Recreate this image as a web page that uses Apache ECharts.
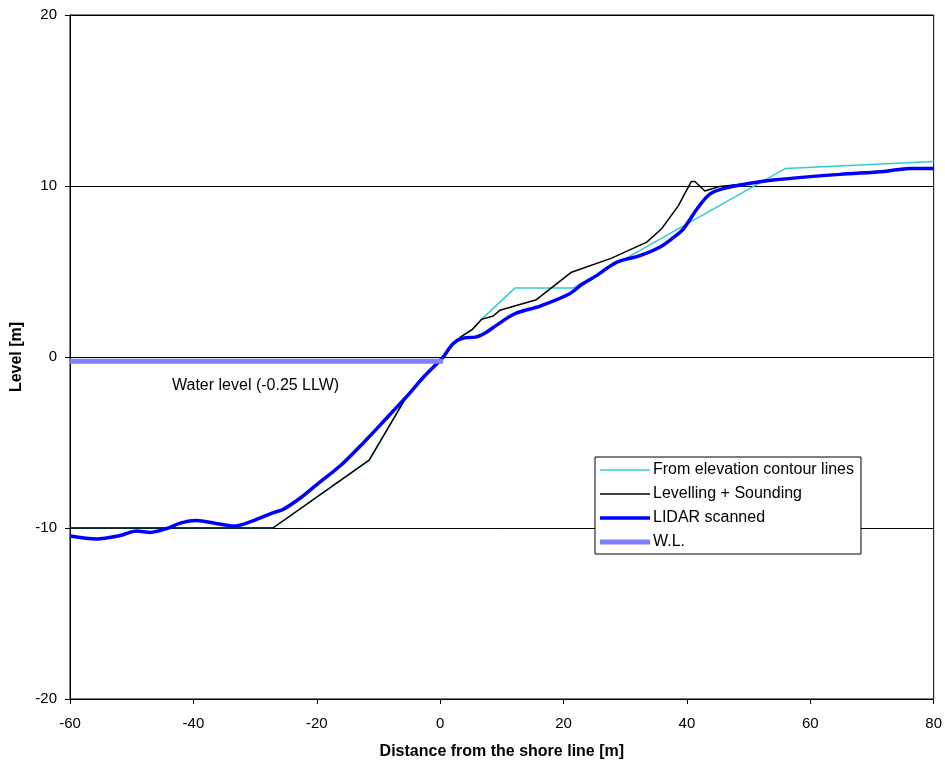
<!DOCTYPE html>
<html lang="en">
<head>
    <meta charset="UTF-8">
    <title>Profile</title>
    <script src="https://cdn.jsdelivr.net/npm/echarts@6/dist/echarts.min.js"></script>
    <style>
        html,body{margin:0;padding:0;background:#fff;}
        #echart1{width:945px;height:765px;}
    </style>
</head>
<body>
    <div id="echart1"></div>
<script>
    // tick labels
    var xTicks = [-60, -40, -20, 0, 20, 40, 60, 80]
    var yTicks = [-20, -10, 0, 10, 20]

    // from elevation contour lines [distance, level]
    var contourData = [[-60,-10],[-27.1,-10],[-11.5,-6.03],[-5.45,-2.32],[-2.5,-1.1],[0.5,0],[2.4,0.88],[3.47,1.21],[5.25,1.62],[6.7,2.2],[12.15,4.04],[21.6,4.04],[56,11.03],[80,11.44]]

    // levelling + sounding
    var levellingData = [[-60,-10],[-27.1,-10],[-11.5,-6.03],[-5.45,-2.32],[-2.5,-1.1],[0.5,0],[2.4,0.88],[3.47,1.21],[5.25,1.62],[6.7,2.2],[8.6,2.4],[9.68,2.73],[15.6,3.35],[21.3,4.96],[27.8,5.78],[33.5,6.72],[35.9,7.5],[38.6,8.84],[40.7,10.26],[41.3,10.26],[42.9,9.71],[45.3,9.97],[50,10.15],[54,10.35],[64.8,10.68],[76.1,11.0],[80,11.0]]

    // LIDAR scanned
    var lidarData = [[-60,-10.47],[-55.7,-10.64],[-52,-10.45],[-49.2,-10.18],[-47,-10.26],[-44.3,-10.03],[-42,-9.7],[-39.5,-9.56],[-36.5,-9.72],[-33.5,-9.89],[-30.5,-9.6],[-27.1,-9.11],[-25.4,-8.9],[-22.5,-8.2],[-20,-7.46],[-16,-6.3],[-12.5,-5.04],[-8.7,-3.58],[-5.45,-2.32],[-2.5,-1.1],[0.5,0.0],[2,0.75],[3.47,1.08],[5.9,1.18],[7.5,1.45],[9.1,1.85],[12.1,2.53],[16.2,2.98],[21,3.7],[23,4.25],[25.35,4.76],[28.6,5.54],[32.4,5.93],[35.6,6.42],[37.5,6.9],[39.4,7.48],[41.8,8.74],[43.7,9.52],[45.9,9.85],[50,10.15],[54,10.35],[64.8,10.68],[72,10.85],[76.1,11.03],[80,11.03]]

    // water level
    var wlData = [[-60,-0.25],[0.5,-0.25]]

    var font = 'Liberation Sans, Arial, sans-serif'

    var option = {
        animation: false,
        backgroundColor: '#fff',
        grid: {
            left: 70,
            right: 11,
            top: 15,
            bottom: 63,
            show: true,
            borderColor: '#000',
            borderWidth: 1,
            backgroundColor: 'transparent'
        },
        legend: {
            orient: 'vertical',
            left: 595,
            top: 457,
            padding: [5, 7, 4, 5],
            itemWidth: 50,
            itemHeight: 14,
            itemGap: 8,
            borderColor: '#000',
            borderWidth: 1,
            backgroundColor: '#fff',
            textStyle: {
                fontFamily: font,
                fontSize: 16,
                color: '#000',
                padding: [0, 0, 0, -2]
            },
            // thin bars as line samples
            data: [
                {name: 'From elevation contour lines', icon: 'path://M0,0h50v1.5h-50z'},
                {name: 'Levelling + Sounding', icon: 'path://M0,0h50v1.5h-50z'},
                {name: 'LIDAR scanned', icon: 'path://M0,0h50v3.5h-50z'},
                {name: 'W.L.', icon: 'path://M0,0h50v5h-50z'}
            ]
        },
        xAxis: {
            type: 'value',
            min: xTicks[0],
            max: xTicks[xTicks.length - 1],
            interval: 20,
            name: 'Distance from the shore line [m]',
            nameLocation: 'middle',
            nameGap: 45,
            nameTextStyle: {fontFamily: font, fontSize: 16, fontWeight: 'bold', color: '#000'},
            axisLine: {onZero: false, lineStyle: {color: '#000', width: 1}},
            axisTick: {show: true, inside: false, length: 5, lineStyle: {color: '#000'}},
            axisLabel: {fontFamily: font, fontSize: 15, color: '#000', margin: 17},
            splitLine: {show: false}
        },
        yAxis: {
            type: 'value',
            min: yTicks[0],
            max: yTicks[yTicks.length - 1],
            interval: 10,
            name: 'Level [m]',
            nameLocation: 'middle',
            nameRotate: 90,
            nameGap: 44,
            nameTextStyle: {fontFamily: font, fontSize: 16, fontWeight: 'bold', color: '#000'},
            axisLine: {show: true, onZero: false, lineStyle: {color: '#000', width: 1}},
            axisTick: {show: true, inside: false, length: 5, lineStyle: {color: '#000'}},
            axisLabel: {fontFamily: font, fontSize: 15, color: '#000', margin: 13},
            splitLine: {show: true, lineStyle: {color: '#000', width: 1}}
        },
        graphic: [{
            type: 'text',
            left: 172,
            top: 378,
            style: {text: 'Water level (-0.25 LLW)', fontFamily: font, fontSize: 16, fill: '#000'}
        }],
        series: [{
            name: 'From elevation contour lines',
            type: 'line',
            symbol: 'none',
            data: contourData,
            lineStyle: {color: '#33CCCC', width: 1.5},
            itemStyle: {color: '#33CCCC'}
        }, {
            name: 'Levelling + Sounding',
            type: 'line',
            symbol: 'none',
            data: levellingData,
            lineStyle: {color: '#000', width: 1.5},
            itemStyle: {color: '#000'}
        }, {
            name: 'LIDAR scanned',
            type: 'line',
            symbol: 'none',
            smooth: 0.3,
            data: lidarData,
            lineStyle: {color: '#0000FF', width: 3.5},
            itemStyle: {color: '#0000FF'}
        }, {
            name: 'W.L.',
            type: 'line',
            symbol: 'none',
            data: wlData,
            lineStyle: {color: '#8080FF', width: 5},
            itemStyle: {color: '#8080FF'}
        }]
    };
    var myChart = echarts.init(document.getElementById('echart1'));
    myChart.setOption(option);
</script>
</body>
</html>
